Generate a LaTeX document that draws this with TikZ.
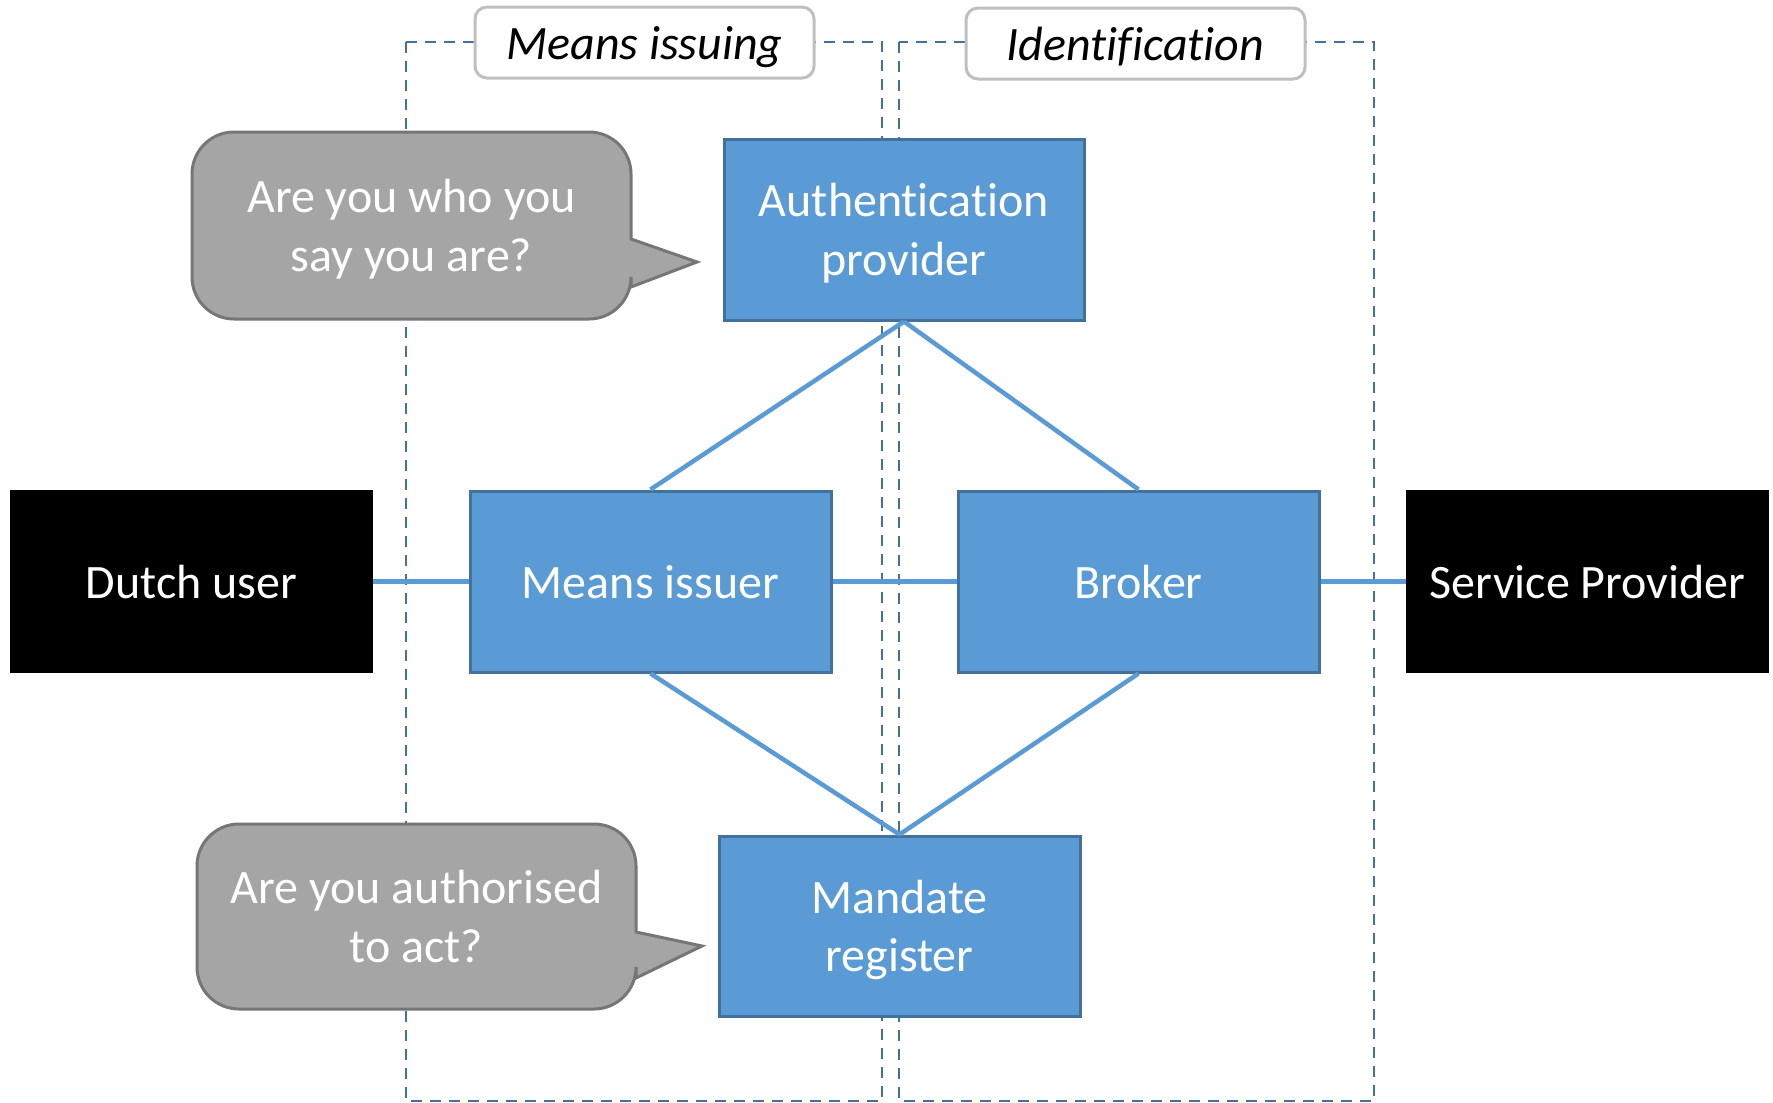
\documentclass[tikz,border=0pt]{standalone}
\usepackage{fontspec}
\setmainfont{Carlito}[Ligatures=NoCommon]
\definecolor{boxblue}{RGB}{91,155,213}
\definecolor{boxedge}{RGB}{65,113,156}
\definecolor{dashblue}{RGB}{65,113,156}
\definecolor{bubblefill}{RGB}{165,165,165}
\definecolor{bubbleedge}{RGB}{118,118,118}
\definecolor{labeledge}{RGB}{191,191,191}
\begin{document}
\begin{tikzpicture}[x=1pt,y=-1pt,
  bluebox/.style={draw=boxedge,line width=3pt,fill=boxblue,text=white,
    minimum width=361pt,minimum height=181pt,inner sep=0pt,align=center,
    text depth=0pt,font=\fontsize{48}{58.5}\selectfont},
  blackbox/.style={fill=black,text=white,minimum width=363pt,minimum height=183pt,
    inner sep=0pt,align=center,text depth=0pt,font=\fontsize{48}{58.5}\selectfont},
  grouplabel/.style={draw=labeledge,line width=3pt,fill=white,rounded corners=12pt,
    minimum width=339pt,minimum height=71pt,inner sep=0pt,text depth=0pt,
    font=\fontsize{48}{58.5}\selectfont\itshape},
  bubbletext/.style={text=white,align=center,inner sep=0pt,text depth=0pt,
    font=\fontsize{48}{58.5}\selectfont},
  bubble/.style={draw=bubbleedge,line width=3pt,fill=bubblefill,line join=miter},
  conn/.style={draw=boxblue,line width=4.5pt},
  groupframe/.style={draw=dashblue,line width=2.5pt,dash pattern=on 11pt off 8pt}
]
\useasboundingbox (0,0) rectangle (1773,1103);
\fill[white] (0,0) rectangle (1773,1103);

% dashed group frames
\draw[groupframe] (406,42) rectangle (882,1101);
\draw[groupframe] (899,42) rectangle (1374,1101);

% group labels
\node[grouplabel] (lab1) at (644.5,42.5) {Means issuing};
\node[grouplabel] (lab2) at (1135.5,43.5) {Identification};

% speech bubbles
\draw[bubble,rounded corners=42pt] (631,287) -- (631,319) -- (192,319) -- (192,132) -- (631,132)
  [sharp corners] -- (631,239) -- (697,262) -- cycle;
\node[bubbletext] (q1) at (411.5,225.5) {Are you who you\\say you are?};

\draw[bubble,rounded corners=42pt] (636,978) -- (636,1009) -- (197,1009) -- (197,824) -- (636,824)
  [sharp corners] -- (636,932) -- (702,946) -- cycle;
\node[bubbletext] (q2) at (416.5,916.5) {Are you authorised\\to act?};

% nodes
\node[blackbox] (du) at (191.5,581.5) {Dutch user};
\node[bluebox] (mi) at (650.5,581.5) {Means issuer};
\node[bluebox] (br) at (1138.5,581.5) {Broker};
\node[blackbox] (sp) at (1587.5,581.5) {Service Provider};
\node[bluebox,minimum width=360pt] (auth) at (904,229.5) {Authentication\\provider};
\node[bluebox,minimum height=180pt] (mr) at (899.5,926) {Mandate\\register};

% connectors
\draw[conn] (auth.south) -- (mi.north);
\draw[conn] (auth.south) -- (br.north);
\draw[conn] (mi.south) -- (mr.north);
\draw[conn] (br.south) -- (mr.north);
\draw[conn] (du.east) -- (mi.west);
\draw[conn] (mi.east) -- (br.west);
\draw[conn] (br.east) -- (sp.west);
\end{tikzpicture}
\end{document}
